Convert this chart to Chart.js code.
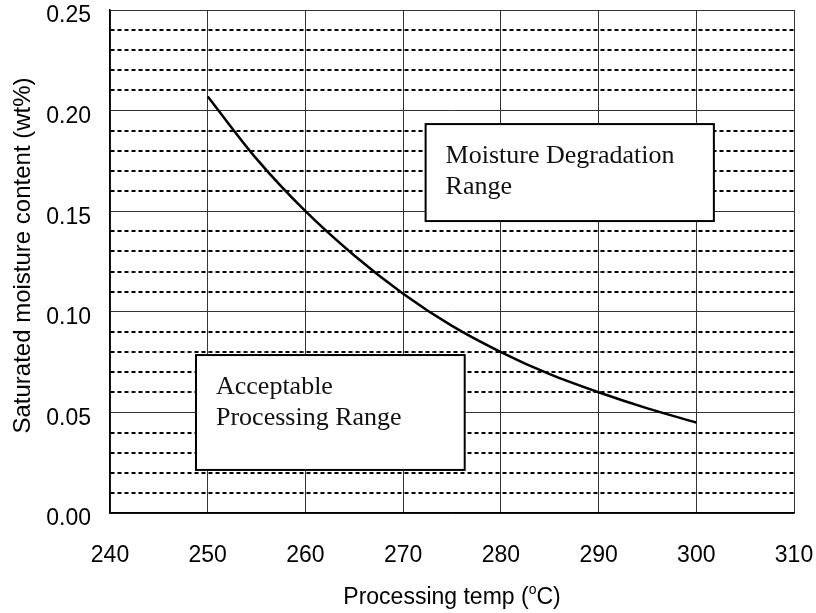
<!DOCTYPE html>
<html>
<head>
<meta charset="utf-8">
<script src="https://cdn.jsdelivr.net/npm/chart.js@4.4.1/dist/chart.umd.min.js"></script>
<style>
  html, body { margin: 0; padding: 0; background: #fff; }
  #wrap { width: 816px; height: 613px; }
</style>
</head>
<body>
<div id="wrap"><canvas id="moistureChart" width="816" height="613"></canvas></div>
<script>
// processing temperature (C) vs saturated moisture content (wt%)
const temps = [250, 255, 260, 265, 270, 275, 280, 285, 290, 295, 300];
const moisture = [0.207, 0.176, 0.150, 0.128, 0.109, 0.093, 0.080, 0.069, 0.060, 0.052, 0.045];

const xTicks = [240, 250, 260, 270, 280, 290, 300, 310];
const yTickLabels = ['0.00', '0.05', '0.10', '0.15', '0.20', '0.25'];

// labelled regions, in data units: [x0, x1, yTop, yBottom]
const regionNames = [['Moisture Degradation', 'Range'], ['Acceptable', 'Processing Range']];
const regionExtents = [[272.3, 301.8, 0.1933, 0.1451], [248.8, 276.3, 0.0785, 0.0214]];

const xTitle = ['Processing temp (', 'o', 'C)'];
const yTitle = 'Saturated moisture content (wt%)';

const SANS = '"Liberation Sans", Arial, sans-serif';
const isMajor = v => Math.round(v * 100) % 5 === 0;

const regionPlugin = {
    id: 'regions',
    afterDatasetsDraw(chart) {
        const { ctx, scales: { x, y } } = chart;
        ctx.save();
        regionExtents.forEach((r, i) => {
            const left = x.getPixelForValue(r[0]);
            const right = x.getPixelForValue(r[1]);
            const top = y.getPixelForValue(r[2]);
            const bottom = y.getPixelForValue(r[3]);
            ctx.fillStyle = '#fff';
            ctx.fillRect(left, top, right - left, bottom - top);
            ctx.strokeStyle = '#000';
            ctx.lineWidth = 2;
            ctx.setLineDash([]);
            ctx.strokeRect(left, top, right - left, bottom - top);
            ctx.fillStyle = '#111';
            ctx.font = '26px "Liberation Serif", "Times New Roman", serif';
            ctx.textBaseline = 'alphabetic';
            ctx.textAlign = 'left';
            regionNames[i].forEach((line, j) => {
                ctx.fillText(line, left + 20, top + 39 + j * 31);
            });
        });
        ctx.restore();
    },
    afterDraw(chart) {
        const { ctx, chartArea } = chart;
        ctx.save();
        ctx.fillStyle = '#000';
        ctx.textBaseline = 'alphabetic';
        ctx.textAlign = 'left';

        // x axis title with a raised "o" for degrees
        const big = '23px ' + SANS;
        const small = '14px ' + SANS;
        ctx.font = big;
        const w0 = ctx.measureText(xTitle[0]).width;
        const w2 = ctx.measureText(xTitle[2]).width;
        ctx.font = small;
        const w1 = ctx.measureText(xTitle[1]).width;
        let px = (chartArea.left + chartArea.right) / 2 - (w0 + w1 + w2) / 2;
        const base = chart.height - 9;
        ctx.font = big;
        ctx.fillText(xTitle[0], px, base);
        px += w0;
        ctx.font = small;
        ctx.fillText(xTitle[1], px, base - 10);
        px += w1;
        ctx.font = big;
        ctx.fillText(xTitle[2], px, base);

        // y axis title, rotated
        ctx.translate(23, (chartArea.top + chartArea.bottom) / 2 - 6);
        ctx.rotate(-Math.PI / 2);
        ctx.font = '24px ' + SANS;
        ctx.textAlign = 'center';
        ctx.textBaseline = 'middle';
        ctx.fillText(yTitle, 0, 0);
        ctx.restore();
    }
};

new Chart(document.getElementById('moistureChart'), {
    type: 'line',
    data: {
        datasets: [{
            data: temps.map((t, i) => ({ x: t, y: moisture[i] })),
            borderColor: '#000',
            borderWidth: 2.5,
            pointRadius: 0,
            fill: false,
            cubicInterpolationMode: 'monotone'
        }]
    },
    options: {
        responsive: false,
        animation: false,
        layout: { padding: { left: 0, right: 22, top: 10, bottom: 0 } },
        plugins: { legend: { display: false }, tooltip: { enabled: false } },
        scales: {
            x: {
                type: 'linear',
                min: 240,
                max: 310,
                afterBuildTicks: axis => { axis.ticks = xTicks.map(v => ({ value: v })); },
                afterFit: s => {
                    s.height = 100;
                    s.paddingLeft = 0; s.paddingRight = 0; s.paddingTop = 0; s.paddingBottom = 0;
                },
                grid: { color: '#333', lineWidth: 1, drawTicks: false },
                border: { color: '#000', width: 1.5 },
                ticks: {
                    padding: 29,
                    maxRotation: 0,
                    color: '#000',
                    font: { family: SANS, size: 23 }
                }
            },
            y: {
                min: 0,
                max: 0.25,
                afterFit: s => {
                    s.width = 110;
                    s.paddingLeft = 0; s.paddingRight = 0; s.paddingTop = 0; s.paddingBottom = 0;
                },
                ticks: {
                    stepSize: 0.01,
                    autoSkip: false,
                    padding: 19,
                    labelOffset: 6,
                    color: '#000',
                    font: { family: SANS, size: 23, lineHeight: 1 },
                    callback: v => isMajor(v) ? yTickLabels[Math.round(v * 20)] : ''
                },
                grid: {
                    drawTicks: false,
                    color: c => (c.tick && isMajor(c.tick.value)) ? '#333' : '#000',
                    lineWidth: c => (c.tick && isMajor(c.tick.value)) ? 1 : 2
                },
                border: {
                    color: '#000',
                    width: 1.5,
                    dash: c => (c.tick && !isMajor(c.tick.value)) ? [4, 3] : []
                }
            }
        }
    },
    plugins: [regionPlugin]
});
</script>
</body>
</html>
